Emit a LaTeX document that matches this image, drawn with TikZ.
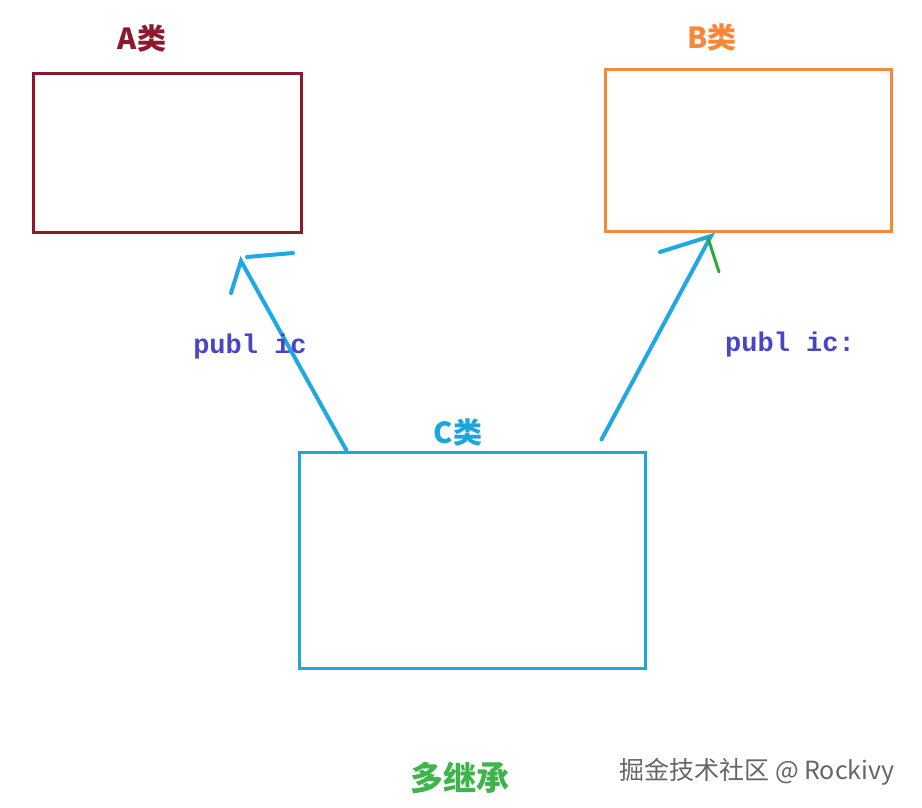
\documentclass[tikz,border=0pt]{standalone}
\usepackage{fontspec}
\setmainfont{Liberation Sans}
\newfontfamily\cjk{Noto Sans CJK SC}
\newfontfamily\codefont{Liberation Mono}
\usetikzlibrary{positioning}
\definecolor{ared}{HTML}{8B1A2E}
\definecolor{borange}{HTML}{F7883A}
\definecolor{cblue}{HTML}{1BA6E0}
\definecolor{kwblue}{HTML}{4A44C6}
\definecolor{tgreen}{HTML}{3DB54A}
\definecolor{penblue}{HTML}{1FA8E2}
\definecolor{pengreen}{HTML}{2EAA3A}
\tikzset{
  classbox/.style={rectangle, draw, line width=3pt, inner sep=0pt},
  classname/.style={font=\cjk\bfseries\fontsize{29}{31}\selectfont, inner sep=0pt},
  kw/.style={font=\codefont\bfseries\fontsize{27}{29}\selectfont, text=kwblue, inner sep=0pt},
  pen/.style={draw=penblue, line width=4pt, line cap=round},
}

\begin{document}
\begin{tikzpicture}[x=1pt, y=-1pt]
\useasboundingbox[fill=white] (0,0) rectangle (922,808);
% the three classes
\node[classbox, draw=ared, minimum width=268pt, minimum height=158pt] (abox) at (167,153) {};
\node[classbox, draw=borange, minimum width=286pt, minimum height=161pt] (bbox) at (748,150.5) {};
\node[classbox, draw=cblue, minimum width=346pt, minimum height=216pt] (cbox) at (472,560) {};
\node[classname, text=ared] (alabel) at (142,38) {A类};
\node[classname, text=borange] (blabel) at (712,37) {B类};
\node[classname, text=cblue, above=4pt of cbox.north, xshift=-14pt] (clabel) {C类};
% inheritance strokes
\coordinate (cl) at ([xshift=49pt]cbox.north west);
\coordinate (cr) at ([xshift=-45pt, yshift=11pt]cbox.north east);
\coordinate (atip) at (241,261);
\coordinate (btip) at (711,236);
\draw[pen] (cl) -- (atip) -- (231,293);
\draw[pen] (247,257) -- (293,253);
\draw[pen] (cr) -- (btip) -- (660,252);
\draw[pen, draw=pengreen, line width=3pt] (708,238) -- (719,272);
\node[kw] (lkw) at (250,347) {publ ic};
\node[kw] (rkw) at (790,345) {publ ic:};
% caption
\node[font=\cjk\bfseries\fontsize{33}{35}\selectfont, text=tgreen] (title) at (460,778) {多继承};
\node[font=\cjk\fontsize{25}{27}\selectfont, text=black!60] (mark) at (757,772) {掘金技术社区 @ Rockivy};
\end{tikzpicture}
\end{document}
